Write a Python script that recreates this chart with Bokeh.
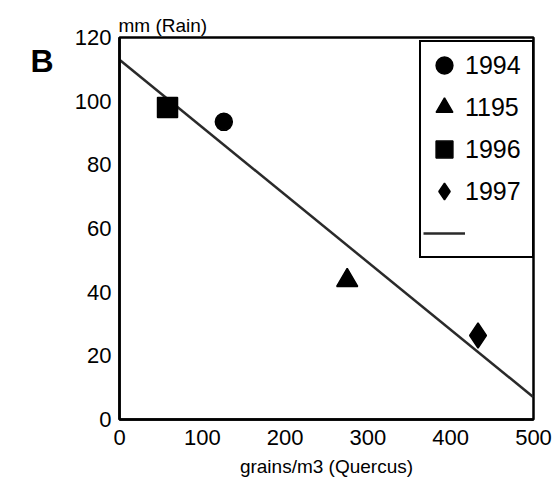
from bokeh.plotting import figure
from bokeh.models import Range1d, FixedTicker, Legend, LegendItem, ColumnDataSource, LinearAxis
from bokeh.embed import file_html
from bokeh.resources import INLINE

# Data
years = ["1994", "1195", "1996", "1997"]
quercus = [126, 275, 58, 433]          # grains/m3 (x)
rain = [93.5, 43.7, 98, 26.4]          # mm (y)
markers = ["circle", "triangle", "square", "diamond"]

trend_x = [0, 500]
trend_y = [113, 7]

x_ticks = [0, 100, 200, 300, 400, 500]
y_ticks = [0, 20, 40, 60, 80, 100, 120]

panel_letter = "B"
panel_letter_y = 112.5

FONT = "Liberation Sans"

p = figure(width=559, height=485, output_backend="svg", toolbar_location=None,
           x_range=Range1d(0, 500), y_range=Range1d(0, 120),
           min_border_left=119, min_border_right=26, min_border_top=37, min_border_bottom=66)
p.background_fill_color = "white"
p.border_fill_color = "white"
p.grid.visible = False
p.outline_line_color = "black"
p.outline_line_width = 2.5

p.title.text = "mm (Rain)"
p.title.align = "left"
p.title.text_font = FONT
p.title.text_font_size = "19px"
p.title.text_font_style = "normal"
p.title.text_color = "black"
p.title.standoff = 3
p.title.offset = -1

for ax in (p.xaxis[0], p.yaxis[0]):
    ax.axis_line_width = 2.5
    ax.axis_line_color = "black"
    ax.major_tick_out = 0
    ax.major_tick_in = 0
    ax.minor_tick_out = 0
    ax.minor_tick_in = 0
    ax.major_label_text_font = FONT
    ax.major_label_text_font_size = "22px"
    ax.major_label_text_color = "black"

p.xaxis.ticker = FixedTicker(ticks=x_ticks)
p.yaxis.ticker = FixedTicker(ticks=y_ticks)
p.xaxis.major_label_standoff = 10
p.yaxis.major_label_standoff = 8
p.xaxis.axis_label = "grains/m3 (Quercus)"
p.xaxis.axis_label_text_font = FONT
p.xaxis.axis_label_text_font_style = "normal"
p.xaxis.axis_label_text_font_size = "19px"
p.xaxis.axis_label_text_color = "black"
p.xaxis.axis_label_standoff = 8

# panel letter as a label on an extra, line-less left axis
b_axis = LinearAxis(ticker=FixedTicker(ticks=[panel_letter_y]),
                    major_label_overrides={panel_letter_y: panel_letter},
                    axis_line_color=None, major_tick_out=0, major_tick_in=0,
                    minor_tick_out=0, minor_tick_in=0,
                    major_label_standoff=18,
                    major_label_text_font=FONT, major_label_text_font_size="32px",
                    major_label_text_font_style="bold", major_label_text_color="black")
p.add_layout(b_axis, "left")

line_r = p.line(trend_x, trend_y, line_color="#2a2a2a", line_width=2.5)

items = []
sizes = [17, 21, 20, 25]
for i in range(len(years)):
    src = ColumnDataSource(dict(x=[quercus[i]], y=[rain[i]]))
    r = p.scatter("x", "y", source=src, marker=markers[i], size=sizes[i],
                  fill_color="black", line_color="black", line_width=1.5)
    items.append(LegendItem(label=years[i], renderers=[r]))
items.append(LegendItem(label="", renderers=[line_r]))

legend = Legend(items=items, location=(300, 161), margin=0,
                label_text_font=FONT, label_text_font_size="25px", label_text_color="black",
                glyph_width=42, glyph_height=42, label_height=42, label_width=65,
                spacing=0, padding=2, label_standoff=0,
                border_line_color="black", border_line_width=2.5, border_line_alpha=1.0,
                background_fill_color="white", background_fill_alpha=1.0)
p.add_layout(legend, "center")

open("out.html", "w").write(file_html(p, INLINE))
